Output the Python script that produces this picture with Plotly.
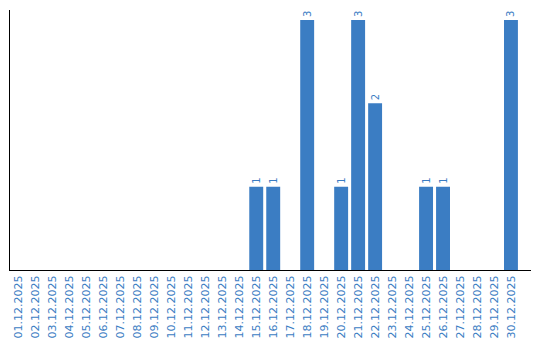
import plotly.graph_objects as go

dates = [f"{d:02d}.12.2025" for d in range(1, 31)]
counts = [0, 0, 0, 0, 0, 0, 0, 0, 0, 0, 0, 0, 0, 0, 1, 1, 0, 3, 0, 1, 3, 2, 0, 0, 1, 1, 0, 0, 0, 3]

blue = "#3b7dc3"
labels = [str(c) if c > 0 else "" for c in counts]

fig = go.Figure(go.Bar(
    x=dates, y=counts, marker_color=blue, marker_line_width=0,
    text=labels, textposition="outside", textangle=-90,
    textfont=dict(color=blue, size=10, family="DejaVu Sans"),
    cliponaxis=False,
))
fig.update_layout(
    width=540, height=340,
    margin=dict(l=10, r=9, t=10, b=70),
    paper_bgcolor="white", plot_bgcolor="white",
    bargap=0.18, showlegend=False,
    font=dict(family="DejaVu Sans", color=blue),
)
fig.update_xaxes(
    type="category", range=[-0.5, 30.18], tickangle=-90,
    tickfont=dict(size=11, color=blue, family="DejaVu Sans"),
    showline=True, linecolor="black", linewidth=1, showgrid=False, ticks="",
    automargin=False,
)
fig.update_yaxes(
    range=[0, 3.12], showticklabels=False, showgrid=False, zeroline=False,
    showline=True, linecolor="black", linewidth=1, ticks="",
    automargin=False,
)
fig.write_html("out.html")
